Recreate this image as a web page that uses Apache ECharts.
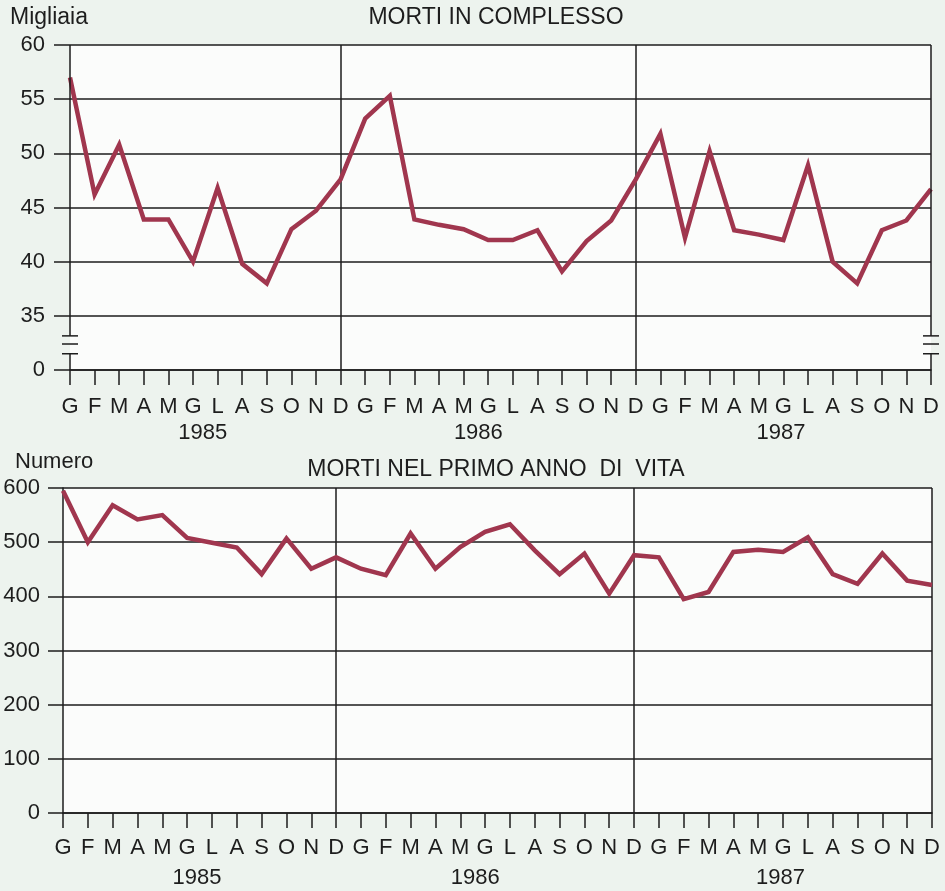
<!DOCTYPE html>
<html><head><meta charset="utf-8">
<script src="https://cdn.jsdelivr.net/npm/echarts@6/dist/echarts.min.js"></script>
<style>html,body{margin:0;padding:0;background:#edf3ee}#c{width:945px;height:891px}</style>
</head><body><div id="c"></div>
<script>
// ---- data ----
const monthLetters = ['G','F','M','A','M','G','L','A','S','O','N','D'];
const months = [].concat(monthLetters, monthLetters, monthLetters);
const years = ['1985', '1986', '1987'];
const yearLabelPos = [5.4, 16.6, 28.9];      // category position under which each year label sits
const yearEndIdx = [11, 23, 35];              // December of each year
// Morti in complesso (migliaia)
const totalDeaths = [57.0, 46.2, 50.8, 43.9, 43.9, 40.0, 46.8, 39.8, 38.0, 43.0, 44.7, 47.6,
                     53.2, 55.3, 43.9, 43.4, 43.0, 42.0, 42.0, 42.9, 39.1, 41.9, 43.8, 47.6,
                     51.8, 42.2, 50.2, 42.9, 42.5, 42.0, 48.9, 40.0, 38.0, 42.9, 43.8, 46.7];
// Morti nel primo anno di vita (numero)
const infantDeaths = [595, 500, 568, 542, 550, 508, 499, 490, 441, 507, 451, 472,
                      451, 439, 516, 451, 491, 519, 533, 485, 441, 479, 405, 476,
                      472, 395, 408, 482, 486, 482, 509, 441, 423, 479, 429, 421];
const topTitle = 'MORTI IN COMPLESSO';
const bottomTitle = 'MORTI NEL PRIMO ANNO  DI  VITA';
const topUnit = 'Migliaia';
const bottomUnit = 'Numero';

// ---- styles ----
const FONT = '"Liberation Sans", Arial, Helvetica, sans-serif';
const INK = '#1d1d1d';
const LINE = '#a0364e';
const lineSt = { color: INK, width: 1.5 };

const chart = echarts.init(document.getElementById('c'), null, { renderer: 'canvas' });

function xAxisFor(i) {
  return {
    type: 'category', gridIndex: i, data: months, boundaryGap: false,
    axisLine: { show: true, lineStyle: lineSt },
    axisTick: { show: true, interval: 0, length: 15, lineStyle: lineSt },
    axisLabel: { interval: 0, margin: i ? 24 : 26, fontSize: 22, color: INK, fontFamily: FONT },
    splitLine: { show: true, interval: (idx) => (idx === yearEndIdx[0] || idx === yearEndIdx[1] || (i === 1 && idx === yearEndIdx[2])), lineStyle: lineSt }
  };
}

const option = {
  backgroundColor: '#edf3ee',
  animation: false,
  title: [
    { text: topTitle, left: 496, top: 6, textAlign: 'center', padding: 0,
      textStyle: { fontSize: 23, fontWeight: 'normal', fontFamily: FONT, color: INK } },
    { text: bottomTitle, left: 496, top: 458, textAlign: 'center', padding: 0,
      textStyle: { fontSize: 23, fontWeight: 'normal', fontFamily: FONT, color: INK } },
    { text: topUnit, left: 10, top: 6, padding: 0,
      textStyle: { fontSize: 23, fontWeight: 'normal', fontFamily: FONT, color: INK } },
    { text: bottomUnit, left: 15, top: 451, padding: 0,
      textStyle: { fontSize: 22, fontWeight: 'normal', fontFamily: FONT, color: INK } }
  ],
  grid: [
    { left: 70, right: 14, top: 45, bottom: 521, show: true, backgroundColor: '#fbfcfb', borderWidth: 0 },
    { left: 63, right: 13, top: 488, bottom: 78, show: true, backgroundColor: '#fbfcfb', borderWidth: 0 }
  ],
  xAxis: [xAxisFor(0), xAxisFor(1)],
  yAxis: [
    { type: 'value', gridIndex: 0, min: 30, max: 60, interval: 5,
      axisLine: { show: false },
      axisTick: { show: true, length: 16, lineStyle: lineSt },
      axisLabel: { margin: 25, fontSize: 22, color: INK, fontFamily: FONT,
                   formatter: (v) => (v === 30 ? '0' : String(v)) },
      splitLine: { show: true, lineStyle: lineSt } },
    { type: 'value', gridIndex: 1, min: 0, max: 600, interval: 100,
      axisLine: { show: true, lineStyle: lineSt },
      axisTick: { show: true, length: 15, lineStyle: lineSt },
      axisLabel: { margin: 23, fontSize: 22, color: INK, fontFamily: FONT },
      splitLine: { show: true, lineStyle: lineSt } }
  ],
  series: [
    { type: 'line', xAxisIndex: 0, yAxisIndex: 0, data: totalDeaths, showSymbol: false, z: 5,
      lineStyle: { color: LINE, width: 4.5, join: 'miter' } },
    { type: 'line', xAxisIndex: 1, yAxisIndex: 1, data: infantDeaths, showSymbol: false, z: 5,
      lineStyle: { color: LINE, width: 4.5, join: 'miter' } }
  ]
};
chart.setOption(option);

// ---- decorations: broken axis on top chart, year labels ----
const gfx = [];
function seg(x1, y1, x2, y2) {
  gfx.push({ type: 'line', z: 10, shape: { x1, y1, x2, y2 }, style: { stroke: INK, lineWidth: 1.5 } });
}
const yTop = chart.convertToPixel({ yAxisIndex: 0 }, 60);
const y35 = chart.convertToPixel({ yAxisIndex: 0 }, 35);
const y0 = chart.convertToPixel({ yAxisIndex: 0 }, 30);
const xL = chart.convertToPixel({ xAxisIndex: 0 }, 0);
const xR = chart.convertToPixel({ xAxisIndex: 0 }, 35);
const b1 = y35 + (y0 - y35) * 0.37;
const b2 = y35 + (y0 - y35) * 0.52;
const b3 = y35 + (y0 - y35) * 0.70;
[xL, xR].forEach((X) => {
  seg(X, yTop, X, b1);
  seg(X - 8, b1, X + 8, b1);
  seg(X - 8, b2, X + 8, b2);
  seg(X - 8, b3, X + 8, b3);
  seg(X, b3, X, y0);
});

[0, 1].forEach((g) => {
  const a = chart.convertToPixel({ xAxisIndex: g }, 0);
  const b = chart.convertToPixel({ xAxisIndex: g }, 35);
  const base = chart.convertToPixel({ yAxisIndex: g }, g ? 0 : 30);
  years.forEach((yr, k) => {
    gfx.push({ type: 'text', z: 10,
      style: { text: yr, x: a + (b - a) * yearLabelPos[k] / 35, y: base + (g ? 65 : 63),
               align: 'center', verticalAlign: 'middle', fill: INK,
               font: '22px "Liberation Sans", Arial, sans-serif' } });
  });
});
chart.setOption({ graphic: gfx });
</script>
</body></html>
